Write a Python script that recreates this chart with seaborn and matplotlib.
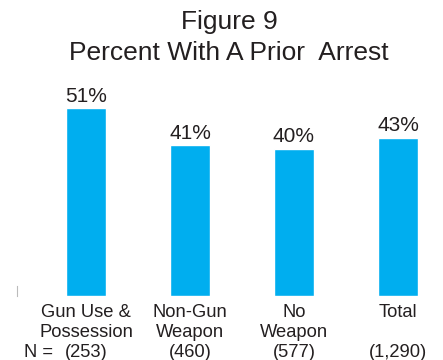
import matplotlib
matplotlib.use("Agg")
import matplotlib.pyplot as plt
import matplotlib.transforms as mtransforms
import seaborn as sns
import pandas as pd

# Share of each offense group with a prior arrest
categories = ["Gun Use &\nPossession", "Non-Gun\nWeapon", "No\nWeapon", "Total"]
counts = ["(253)", "(460)", "(577)", "(1,290)"]
percent = [51, 41, 40, 43]

BAR = "#00AEEF"
INK = "#231F20"
H = 360  # figure height in pixels

sns.set_theme(style="white")
plt.rcParams["font.family"] = ["Liberation Sans", "DejaVu Sans"]

df = pd.DataFrame({"group": categories, "pct": percent})

fig = plt.figure(figsize=(4.43, 3.6), dpi=100)
ax = fig.add_axes([17 / 443, 64 / H, 426 / 443, 221 / H])

sns.barplot(data=df, x="group", y="pct", color=BAR, width=0.385,
            saturation=1, ax=ax)

ax.set_xlim(-0.6635, 3.433)
ax.set_ylim(0, 60)
ax.set_xlabel("")
ax.set_ylabel("")
ax.set_yticks([])
ax.set_xticks(range(len(categories)))
ax.set_xticklabels([])
ax.tick_params(axis="x", length=0)

for side in ("top", "right", "bottom"):
    ax.spines[side].set_visible(False)
ax.spines["left"].set_color("#BBBBBB")
ax.spines["left"].set_linewidth(0.8)
ax.spines["left"].set_bounds(0, 2.7)

# category names and group sizes under the bars (x in data, y in figure)
trans = mtransforms.blended_transform_factory(ax.transData, fig.transFigure)
label_kw = dict(ha="center", va="baseline", fontsize=13.2, color=INK,
                transform=trans)
for i, (cat, n) in enumerate(zip(categories, counts)):
    lines = cat.split("\n")
    if len(lines) == 1:
        lines = lines + [""]
    ax.text(i, 1 - 317 / H, lines[0], **label_kw)
    ax.text(i, 1 - 337 / H, lines[1], **label_kw)
    ax.text(i, 1 - 357 / H, n, **label_kw)

fig.text(24 / 443, 1 - 357 / H, "N =", ha="left", va="baseline",
         fontsize=13.2, color=INK)

for i, v in enumerate(percent):
    ax.annotate(f"{v}%", (i, v), xytext=(0, 4.5), textcoords="offset points",
                ha="center", va="baseline", fontsize=15, color=INK)

fig.text(229 / 443, 1 - 29 / H, "Figure 9", ha="center", va="baseline",
         fontsize=19, color=INK)
fig.text(229 / 443, 1 - 60 / H, "Percent With A Prior  Arrest",
         ha="center", va="baseline", fontsize=19, color=INK)

fig.savefig("out.png", dpi=100)
